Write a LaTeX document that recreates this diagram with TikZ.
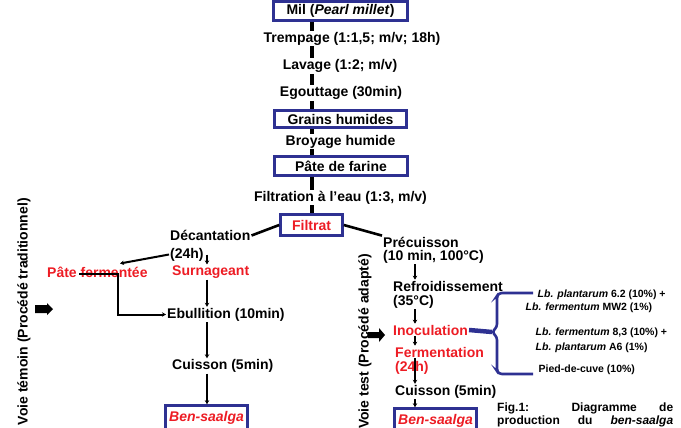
\documentclass[tikz,border=0pt]{standalone}
\usepackage{fontspec}
\setmainfont{Liberation Sans}
\usetikzlibrary{arrows.meta}
\definecolor{bblue}{HTML}{2E3192}
\definecolor{rred}{HTML}{ED1C24}
\begin{document}
\begin{tikzpicture}[x=1pt,y=-1pt,
  txt/.style={font=\fontsize{14}{16}\selectfont\bfseries, inner sep=1pt},
  lt/.style={txt, anchor=west},
  rt/.style={text=rred},
  small/.style={font=\fontsize{10.5}{12}\selectfont\bfseries, inner sep=0.5pt, anchor=west},
  bx/.style={draw=bblue, line width=2.6pt, fill=white, inner sep=0pt, font=\fontsize{14}{16}\selectfont\bfseries},
  spine/.style={line width=3.2pt},
  conn/.style={line width=2pt, -{Stealth[length=4pt,width=4.5pt]}},
  diag/.style={line width=2.6pt},
  brace/.style={draw=bblue, line width=2.6pt}
]
\useasboundingbox (0,0) rectangle (681,428);

% central column
\node[bx, minimum width=134pt, minimum height=19pt] (mil) at (340.5,11) {Mil (\textit{Pearl millet})};
\node[txt] (tremp) at (352,38.5) {Trempage (1:1,5; m/v; 18h)};
\node[txt] (lav) at (340,66) {Lavage (1:2; m/v)};
\node[txt] (egou) at (341,93) {Egouttage (30min)};
\node[bx, minimum width=132pt, minimum height=17pt] (grains) at (340.5,119) {Grains humides};
\node[txt] (broy) at (340.5,141.5) {Broyage humide};
\node[bx, minimum width=133pt, minimum height=19pt] (pate) at (341,166) {P\^ate de farine};
\node[txt] (filtr) at (340.5,197.5) {Filtration \`a l'eau (1:3, m/v)};
\node[bx, minimum width=62pt, minimum height=21pt, text=rred] (filtrat) at (311.5,225) {Filtrat};

\coordinate (sp) at (312,0);
\draw[spine] (mil.south -| sp) -- (tremp.north -| sp);
\draw[spine] (tremp.south -| sp) -- (lav.north -| sp);
\draw[spine] (lav.south -| sp) -- (egou.north -| sp);
\draw[spine] (egou.south -| sp) -- (grains.north -| sp);
\draw[spine] (grains.south -| sp) -- (broy.north -| sp);
\draw[spine] (broy.south -| sp) -- (pate.north -| sp);
\draw[spine] (pate.south -| sp) -- (filtr.north -| sp);
\draw[spine] (filtr.south -| sp) -- (filtrat.north -| sp);

% left branch
\node[lt] (dec) at (169,235.5) {D\'ecantation};
\node[lt] (h24) at (169,254.5) {(24h)};
\node[lt, rt] (pf) at (46,272) {P\^ate ferment\'ee};
\node[lt, rt] (surn) at (171,272) {Surnageant};
\node[lt] (ebu) at (166,314.5) {Ebullition (10min)};
\node[lt] (cuis) at (171,366) {Cuisson (5min)};
\node[bx, minimum width=82pt, minimum height=24pt, text=rred] (benl) at (206.5,417.5) {\textit{Ben-saalga}};

\draw[diag] (filtrat.west) -- (dec.east);
\coordinate (pfa) at (120,263.5);
\draw[conn] (h24.west) -- (pfa);
\coordinate (pfl) at (79,274);
\coordinate (pfc) at (118,274);
\draw[conn] (pfl) -- (pfc) -- (pfc |- ebu.west) -- (ebu.west);
\coordinate (lv) at (207,0);
\draw[conn] (h24.east -| lv) -- (surn.north -| lv);
\draw[conn] (surn.south -| lv) -- (ebu.north -| lv);
\draw[conn] (ebu.south -| lv) -- (cuis.north -| lv);
\draw[conn] (cuis.south -| lv) -- (benl.north -| lv);

% right branch
\node[lt] (prec) at (382,242) {Pr\'ecuisson};
\node[lt] (tenmin) at (382,256.5) {(10 min, 100\textdegree C)};
\node[lt] (refr) at (392,286) {Refroidissement};
\node[lt] (c35) at (392,301.5) {(35\textdegree C)};
\node[lt, rt] (inoc) at (392,330) {Inoculation};
\node[lt, rt] (ferm) at (394,352) {Fermentation};
\node[lt, rt] (h24r) at (394,368) {(24h)};
\node[lt] (cuisr) at (394,391.5) {Cuisson (5min)};
\node[bx, minimum width=82pt, minimum height=24pt, text=rred] (benr) at (435.5,420.5) {\textit{Ben-saalga}};

\draw[diag] (filtrat.east) -- (prec.north west);
\coordinate (rv) at (415,0);
\draw[conn] (tenmin.south -| rv) -- (refr.north -| rv);
\draw[conn] (c35.south -| rv) -- (inoc.north -| rv);
\draw[conn] (inoc.south -| rv) -- (ferm.north -| rv);
\draw[conn] (ferm.south -| rv) -- (cuisr.north -| rv);
\draw[conn] (cuisr.south -| rv) -- (benr.north -| rv);

% brace
\coordinate (tip) at (492,332);
\draw[bblue, line width=4.5pt] (inoc.east) -- (tip);
\draw[brace, rounded corners=3pt] (533,293) -- (499,293) -- (497,296) -- (497,327) -- (tip) -- (497,337) -- (497,371) -- (499,374) -- (533,374);

\node[small] (s1) at (537,295) {\textit{Lb. plantarum} 6.2 (10\%) +};
\node[small] (s2) at (525,307.5) {\textit{Lb. fermentum} MW2 (1\%)};
\node[small] (s3) at (535,333) {\textit{Lb. fermentum} 8,3 (10\%) +};
\node[small] (s4) at (535,348) {\textit{Lb. plantarum} A6 (1\%)};
\node[small] (s5) at (538,370) {Pied-de-cuve (10\%)};

% caption
\node[anchor=base west, inner sep=0pt, font=\fontsize{12}{14}\selectfont\bfseries] (cap1) at (497,411.5) {\makebox[176pt][s]{Fig.1: Diagramme de}};
\node[anchor=base west, inner sep=0pt, font=\fontsize{12}{14}\selectfont\bfseries] (cap2) at (497,424.5) {\makebox[176pt][s]{production du \textit{ben-saalga}}};

% vertical labels
\node[txt, rotate=90, anchor=east] (vl) at (24,197) {Voie t\'emoin (Proc\'ed\'e traditionnel)};
\node[txt, rotate=90, anchor=east] (vr) at (365,253) {Voie test (Proc\'ed\'e adapt\'e)};

% block arrows
\fill (35,305) -- (47,305) -- (47,303) -- (53,309) -- (47,315) -- (47,313) -- (35,313) -- cycle;
\fill (368,332) -- (379,332) -- (379,328) -- (385,335) -- (379,342) -- (379,338) -- (368,338) -- cycle;
\end{tikzpicture}
\end{document}
